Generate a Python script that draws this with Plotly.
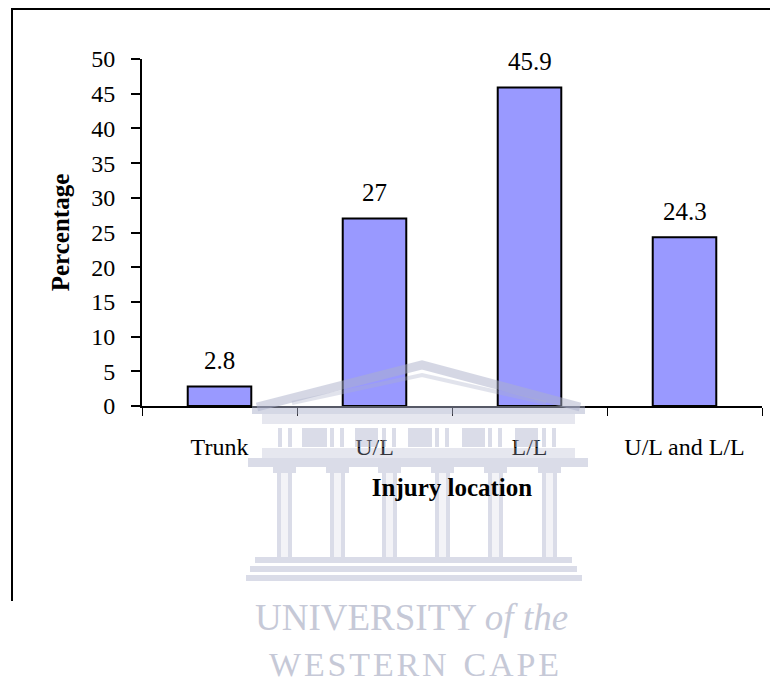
import plotly.graph_objects as go

categories = ["Trunk", "U/L", "L/L", "U/L and L/L"]
percentages = [2.8, 27, 45.9, 24.3]
y_ticks = [0, 5, 10, 15, 20, 25, 30, 35, 40, 45, 50]

OFF = 8  # page body margin offset
W, H = 778 - OFF, 683 - OFF
L, R, T, B = 142 - OFF, 16, 59 - OFF, 277
PW, PH = W - L - R, H - T - B


def px(x):
    # x in reference-image pixels
    return (x - OFF - L) / PW


def py(y):
    return (T + PH - (y - OFF)) / PH


fig = go.Figure()
fig.add_trace(go.Bar(
    x=categories, y=percentages,
    marker=dict(color="#9999FF", line=dict(color="black", width=2)),
    width=0.41, showlegend=False, hoverinfo="x+y",
))

SERIF = "Liberation Serif, Times New Roman, serif"

annotations = []
for c, v in zip(categories, percentages):
    annotations.append(dict(
        x=c, y=v, xref="x", yref="y", text=f"{v:g}", showarrow=False,
        yanchor="middle", yshift=26, font=dict(family=SERIF, size=25, color="black"),
    ))

# watermark text
WM = "rgb(198,201,215)"
annotations.append(dict(
    x=px(253), y=py(617), xref="paper", yref="paper", xanchor="left", yanchor="middle",
    text="UNIVERSITY <i>of the</i>", showarrow=False,
    font=dict(family=SERIF, size=37, color=WM),
))
hs = "\u200a"
annotations.append(dict(
    x=px(414), y=py(664), xref="paper", yref="paper", xanchor="center", yanchor="middle",
    text=hs.join("WESTERN") + "  " + hs.join("CAPE"), showarrow=False,
    font=dict(family=SERIF, size=34, color=WM),
))

shapes = []
# outer frame
shapes.append(dict(type="line", xref="paper", yref="paper", x0=px(11), x1=px(790),
                   y0=py(9), y1=py(9), line=dict(color="black", width=2)))
shapes.append(dict(type="line", xref="paper", yref="paper", x0=px(12), x1=px(12),
                   y0=py(9), y1=py(601), line=dict(color="black", width=2)))

BC = "rgb(172,177,203)"
OP = 0.45


def rect(x0, y0, x1, y1, op=OP):
    shapes.append(dict(type="rect", xref="paper", yref="paper", layer="above",
                       x0=px(x0), x1=px(x1), y0=py(y0), y1=py(y1),
                       fillcolor=BC, opacity=op, line=dict(width=0)))


def path(pts, width, op=OP):
    d = "M" + " L".join(f"{px(a):.5f},{py(b):.5f}" for a, b in pts)
    shapes.append(dict(type="path", xref="paper", yref="paper", layer="above", path=d,
                       opacity=op, line=dict(color=BC, width=width)))


# pediment
path([(257, 407), (422, 365), (580, 407)], 9, 0.5)
path([(292, 403), (422, 375), (546, 403)], 4, 0.35)
rect(252, 406, 585, 414, 0.5)
# frieze
rect(262, 414, 575, 424, 0.3)
rect(262, 448, 575, 458, 0.3)
for a, b in [(302, 327), (355, 378), (408, 432), (462, 485), (515, 538)]:
    rect(a, 428, b, 447)
for a in [278, 330, 382, 435, 488, 542]:
    rect(a, 428, a + 4, 447)
    rect(a + 10, 428, a + 14, 447)
# architrave
rect(248, 458, 588, 467)
# capitals and columns
for a in [277, 330, 382, 435, 488, 542]:
    rect(a - 4, 467, a + 19, 473)
    rect(a, 473, a + 4, 557)
    rect(a + 11, 473, a + 15, 557)
    rect(a + 4, 473, a + 11, 557, 0.15)
# base steps
rect(255, 557, 572, 563)
rect(250, 566, 577, 572)
rect(246, 575, 582, 581)

fig.update_layout(
    width=W, height=H,
    margin=dict(l=L, r=R, t=T, b=B, pad=0),
    paper_bgcolor="white", plot_bgcolor="white",
    font=dict(family=SERIF, size=24, color="black"),
    bargap=0.59,
    xaxis=dict(
        type="category", showline=True, linecolor="black", linewidth=2,
        ticks="outside", tickson="boundaries", ticklen=8, tickwidth=1, tickcolor="black",
        tickfont=dict(family=SERIF, size=24, color="black"),
        ticklabelstandoff=18,
        showgrid=False, zeroline=False,
        title=dict(text="<b>Injury location</b>", font=dict(family=SERIF, size=25, color="black"),
                   standoff=20),
    ),
    yaxis=dict(
        range=[0, 50], tickvals=y_ticks, showline=True, linecolor="black", linewidth=2,
        ticks="outside", ticklen=9, tickwidth=2, tickcolor="black",
        tickfont=dict(family=SERIF, size=24, color="black"),
        ticklabelstandoff=11,
        showgrid=False, zeroline=False,
        title=dict(text="<b>Percentage</b>", font=dict(family=SERIF, size=25, color="black"),
                   standoff=14),
    ),
    annotations=annotations,
    shapes=shapes,
)

fig.write_html("out.html")
